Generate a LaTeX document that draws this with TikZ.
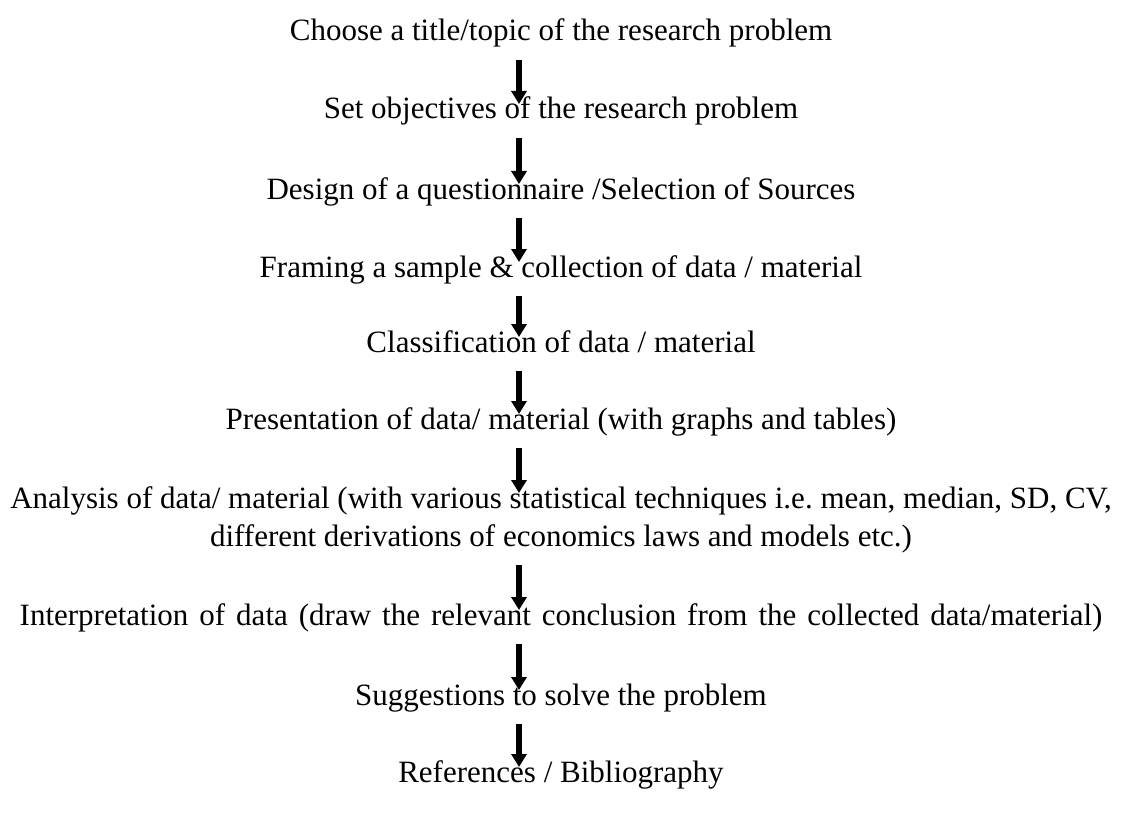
\documentclass[tikz,border=0pt]{standalone}
\usepackage{fontspec}
\setmainfont{Liberation Serif}
\usetikzlibrary{arrows.meta,calc}
\frenchspacing
\tikzset{
  stepnode/.style={anchor=base,inner sep=0pt,font=\fontsize{31}{38}\selectfont,align=center},
  arr/.style={line width=5.5pt,-{Triangle[width=15pt,length=13pt]}}
}
\begin{document}
\begin{tikzpicture}[x=1pt,y=-1pt]
\useasboundingbox (0,0) rectangle (1122,824);
\coordinate (ax) at (519,0);
\node[stepnode] (n1) at (561,41) {Choose a title/topic of the research problem};
\node[stepnode] (n2) at (561,119) {Set objectives of the research problem};
\node[stepnode] (n3) at (561,199) {Design of a questionnaire /Selection of Sources};
\node[stepnode] (n4) at (561,277) {Framing a sample \& collection of data / material};
\node[stepnode] (n5) at (561,352) {Classification of data / material};
\node[stepnode] (n6) at (561,429) {Presentation of data/ material (with graphs and tables)};
\node[stepnode] (n7) at (561,546) {Analysis of data/ material (with various statistical techniques i.e.\ mean, median, SD, CV,\\ different derivations of economics laws and models etc.)};
\node[stepnode] (n8) at (561,625) {\spaceskip=11pt Interpretation of data (draw the relevant conclusion from the collected data/material)};
\node[stepnode] (n9) at (561,705) {Suggestions to solve the problem};
\node[stepnode] (n10) at (561,782) {References / Bibliography};
\foreach \a/\b in {n1/n2,n2/n3,n3/n4,n4/n5,n5/n6,n8/n9,n9/n10}{
  \draw[arr] ($(\a.base -| ax)+(0,19)$) -- ($(\b.base -| ax)+(0,-15)$);
}
\draw[arr] ($(n6.base -| ax)+(0,19)$) -- ($(n7.base -| ax)+(0,-53)$);
\draw[arr] ($(n7.base -| ax)+(0,19)$) -- ($(n8.base -| ax)+(0,-15)$);
\end{tikzpicture}
\end{document}
